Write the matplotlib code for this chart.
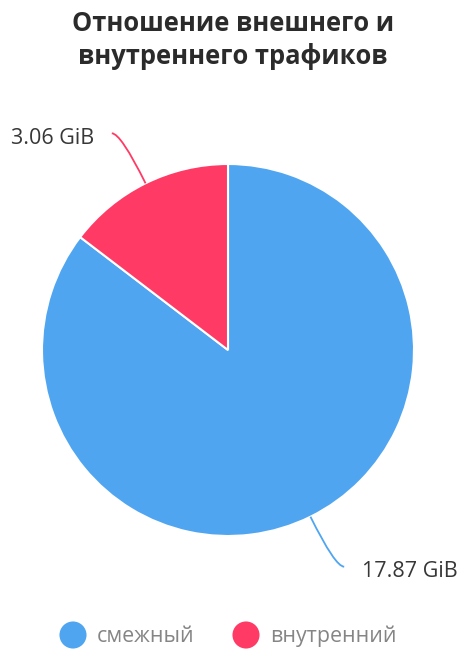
import numpy as np
import matplotlib.pyplot as plt
from matplotlib.path import Path
from matplotlib.patches import PathPatch

# данные
categories = ['смежный', 'внутренний']
values = [17.87, 3.06]
value_labels = ['17.87 GiB', '3.06 GiB']
colors = ['#50a5f1', '#ff3a65']
title = 'Отношение внешнего и\nвнутреннего трафиков'

plt.rcParams['font.family'] = ['Open Sans', 'DejaVu Sans']

W, H = 470, 656
fig = plt.figure(figsize=(W / 100, H / 100), dpi=100)
ax = fig.add_axes([0, 0, 1, 1])

cx, cy, r = 228, H - 350, 186
ax.pie(values, colors=colors, startangle=90, counterclock=False,
       radius=r, center=(cx, cy), frame=True,
       wedgeprops=dict(edgecolor='white', linewidth=1.5))
ax.set_xlim(0, W)
ax.set_ylim(0, H)
ax.set_aspect('equal')
ax.axis('off')

# подписи с изогнутыми линиями
total = sum(values)
start = 90.0
for v, lab, col in zip(values, value_labels, colors):
    sweep = 360.0 * v / total
    mid = np.deg2rad(start - sweep / 2)
    start -= sweep
    dx, dy = np.cos(mid), np.sin(mid)
    p0 = (cx + r * dx, cy + r * dy)
    t = 50 / abs(dy)
    p1 = (p0[0] + t * dx, p0[1] + t * dy)
    side = 1 if dx > 0 else -1
    p2 = (p1[0] + side * 9, p1[1])
    path = Path([p0, p1, p2], [Path.MOVETO, Path.CURVE3, Path.CURVE3])
    ax.add_patch(PathPatch(path, facecolor='none', edgecolor=col, lw=1.3))
    ax.text(p2[0] + side * 18, p2[1] - 5, lab, ha='left' if side > 0 else 'right',
            va='center', fontsize=15.5, color='#373737')

ax.text(233, H - 40, title, ha='center', va='center', fontsize=18.4,
        fontweight='bold', color='#2b2b2b', linespacing=1.3)

# легенда
ly = H - 635
for i, (name, c) in enumerate(zip(categories, colors)):
    x0 = 73 + i * 173
    ax.scatter([x0], [ly], s=380, color=c, edgecolors='none')
    ax.text(x0 + 24, ly - 1, name, ha='left', va='center', fontsize=15.4,
            color='#858585')

fig.savefig('out.png', dpi=100, facecolor='white')
